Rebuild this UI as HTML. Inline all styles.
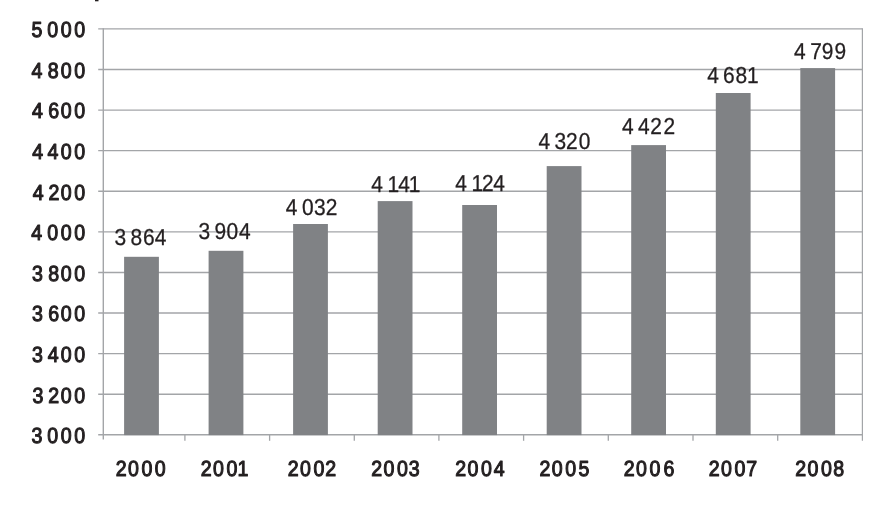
<!DOCTYPE html>
<html><head><meta charset="utf-8"><title>Chart</title>
<style>html,body{margin:0;padding:0;background:#fff}svg{display:block}text{text-rendering:geometricPrecision;font-family:"Liberation Sans",sans-serif;fill:#231f20;white-space:pre}</style></head><body>
<svg width="892" height="522" viewBox="0 0 892 522">
<rect width="892" height="522" fill="#fff"/>
<rect x="95" y="0" width="3.5" height="1.3" fill="#231f20"/>
<line x1="98.2" x2="862.4" y1="28.90" y2="28.90" stroke="#a3a5a8" stroke-width="1.4"/>
<line x1="98.2" x2="862.4" y1="69.49" y2="69.49" stroke="#a3a5a8" stroke-width="1.4"/>
<line x1="98.2" x2="862.4" y1="110.08" y2="110.08" stroke="#a3a5a8" stroke-width="1.4"/>
<line x1="98.2" x2="862.4" y1="150.67" y2="150.67" stroke="#a3a5a8" stroke-width="1.4"/>
<line x1="98.2" x2="862.4" y1="191.26" y2="191.26" stroke="#a3a5a8" stroke-width="1.4"/>
<line x1="98.2" x2="862.4" y1="231.85" y2="231.85" stroke="#a3a5a8" stroke-width="1.4"/>
<line x1="98.2" x2="862.4" y1="272.44" y2="272.44" stroke="#a3a5a8" stroke-width="1.4"/>
<line x1="98.2" x2="862.4" y1="313.03" y2="313.03" stroke="#a3a5a8" stroke-width="1.4"/>
<line x1="98.2" x2="862.4" y1="353.62" y2="353.62" stroke="#a3a5a8" stroke-width="1.4"/>
<line x1="98.2" x2="862.4" y1="394.21" y2="394.21" stroke="#a3a5a8" stroke-width="1.4"/>
<line x1="98.2" x2="862.4" y1="434.80" y2="434.80" stroke="#a3a5a8" stroke-width="1.4"/>
<line x1="103.3" x2="103.3" y1="28.2" y2="439.4" stroke="#a3a5a8" stroke-width="1.4"/>
<line x1="862.4" x2="862.4" y1="28.2" y2="440.8" stroke="#a3a5a8" stroke-width="1.2"/>
<line x1="184.9" x2="184.9" y1="434.8" y2="440.8" stroke="#a3a5a8" stroke-width="1.3"/>
<line x1="269.6" x2="269.6" y1="434.8" y2="440.8" stroke="#a3a5a8" stroke-width="1.3"/>
<line x1="354.3" x2="354.3" y1="434.8" y2="440.8" stroke="#a3a5a8" stroke-width="1.3"/>
<line x1="438.9" x2="438.9" y1="434.8" y2="440.8" stroke="#a3a5a8" stroke-width="1.3"/>
<line x1="523.6" x2="523.6" y1="434.8" y2="440.8" stroke="#a3a5a8" stroke-width="1.3"/>
<line x1="608.3" x2="608.3" y1="434.8" y2="440.8" stroke="#a3a5a8" stroke-width="1.3"/>
<line x1="693.0" x2="693.0" y1="434.8" y2="440.8" stroke="#a3a5a8" stroke-width="1.3"/>
<line x1="777.7" x2="777.7" y1="434.8" y2="440.8" stroke="#a3a5a8" stroke-width="1.3"/>
<rect x="124.1" y="256.8" width="34.8" height="178.3" fill="#808285"/>
<rect x="208.6" y="250.8" width="34.8" height="184.3" fill="#808285"/>
<rect x="293.1" y="224.0" width="34.8" height="211.1" fill="#808285"/>
<rect x="377.7" y="201.1" width="34.8" height="234.0" fill="#808285"/>
<rect x="462.2" y="205.0" width="34.8" height="230.1" fill="#808285"/>
<rect x="546.7" y="166.1" width="34.8" height="269.0" fill="#808285"/>
<rect x="631.2" y="145.1" width="34.8" height="290.0" fill="#808285"/>
<rect x="715.8" y="93.0" width="34.8" height="342.1" fill="#808285"/>
<rect x="800.3" y="68.1" width="34.8" height="367.0" fill="#808285"/>
<text transform="translate(0,244.80) scale(0.910,1)" x="125.70 138.50 143.49 157.26 170.05" font-size="23.0" stroke="#231f20" stroke-width="0.3">3 864</text>
<text transform="translate(0,238.50) scale(0.910,1)" x="218.12 230.91 235.59 248.93 262.63" font-size="23.0" stroke="#231f20" stroke-width="0.3">3 904</text>
<text transform="translate(0,214.80) scale(0.910,1)" x="313.95 326.74 331.96 345.16 358.00" font-size="23.0" stroke="#231f20" stroke-width="0.3">4 032</text>
<text transform="translate(0,191.50) scale(0.910,1)" x="408.07 420.86 425.93 437.63 449.22" font-size="23.0" stroke="#231f20" stroke-width="0.3">4 141</text>
<text transform="translate(0,191.40) scale(0.910,1)" x="500.38 513.17 518.23 529.70 542.14" font-size="23.0" stroke="#231f20" stroke-width="0.3">4 124</text>
<text transform="translate(0,148.70) scale(0.910,1)" x="591.81 604.60 609.44 622.01 635.86" font-size="23.0" stroke="#231f20" stroke-width="0.3">4 320</text>
<text transform="translate(0,133.70) scale(0.910,1)" x="683.40 696.19 701.04 714.65 729.10" font-size="23.0" stroke="#231f20" stroke-width="0.3">4 422</text>
<text transform="translate(0,82.70) scale(0.910,1)" x="777.30 790.10 794.51 808.27 820.87" font-size="23.0" stroke="#231f20" stroke-width="0.3">4 681</text>
<text transform="translate(0,58.50) scale(0.910,1)" x="872.41 885.21 890.46 902.90 917.07" font-size="23.0" stroke="#231f20" stroke-width="0.3">4 799</text>
<text transform="translate(0,37.20) scale(0.895,1)" x="35.33 47.51 52.85 67.82 82.85" font-size="21.9" stroke="#231f20" stroke-width="1.1" stroke-linejoin="round">5 000</text>
<text transform="translate(0,77.79) scale(0.895,1)" x="35.32 47.50 53.24 67.82 82.85" font-size="21.9" stroke="#231f20" stroke-width="1.1" stroke-linejoin="round">4 800</text>
<text transform="translate(0,118.38) scale(0.895,1)" x="35.77 47.95 54.00 67.82 82.85" font-size="21.9" stroke="#231f20" stroke-width="1.1" stroke-linejoin="round">4 600</text>
<text transform="translate(0,158.97) scale(0.895,1)" x="36.10 48.28 52.97 67.82 82.85" font-size="21.9" stroke="#231f20" stroke-width="1.1" stroke-linejoin="round">4 400</text>
<text transform="translate(0,199.56) scale(0.895,1)" x="36.55 48.73 54.08 67.82 82.85" font-size="21.9" stroke="#231f20" stroke-width="1.1" stroke-linejoin="round">4 200</text>
<text transform="translate(0,240.15) scale(0.895,1)" x="34.99 47.16 52.85 67.82 82.85" font-size="21.9" stroke="#231f20" stroke-width="1.1" stroke-linejoin="round">4 000</text>
<text transform="translate(0,280.74) scale(0.895,1)" x="35.65 47.83 54.02 67.82 82.85" font-size="21.9" stroke="#231f20" stroke-width="1.1" stroke-linejoin="round">3 800</text>
<text transform="translate(0,321.33) scale(0.895,1)" x="35.65 47.83 54.00 67.82 82.85" font-size="21.9" stroke="#231f20" stroke-width="1.1" stroke-linejoin="round">3 600</text>
<text transform="translate(0,361.92) scale(0.895,1)" x="35.87 48.05 53.31 67.82 82.85" font-size="21.9" stroke="#231f20" stroke-width="1.1" stroke-linejoin="round">3 400</text>
<text transform="translate(0,402.51) scale(0.895,1)" x="36.32 48.50 53.85 67.82 82.85" font-size="21.9" stroke="#231f20" stroke-width="1.1" stroke-linejoin="round">3 200</text>
<text transform="translate(0,443.10) scale(0.895,1)" x="35.20 47.38 52.85 67.82 82.85" font-size="21.9" stroke="#231f20" stroke-width="1.1" stroke-linejoin="round">3 000</text>
<text transform="translate(0,476.40) scale(0.895,1)" x="129.22 142.90 157.99 172.96" font-size="21.9" stroke="#231f20" stroke-width="1.1" stroke-linejoin="round">2000</text>
<text transform="translate(0,476.40) scale(0.895,1)" x="224.30 237.99 253.07 265.45" font-size="21.9" stroke="#231f20" stroke-width="1.1" stroke-linejoin="round">2001</text>
<text transform="translate(0,476.40) scale(0.895,1)" x="321.62 335.31 350.39 363.35" font-size="21.9" stroke="#231f20" stroke-width="1.1" stroke-linejoin="round">2002</text>
<text transform="translate(0,476.40) scale(0.895,1)" x="414.80 428.49 443.57 456.77" font-size="21.9" stroke="#231f20" stroke-width="1.1" stroke-linejoin="round">2003</text>
<text transform="translate(0,476.40) scale(0.895,1)" x="508.77 522.46 537.54 551.75" font-size="21.9" stroke="#231f20" stroke-width="1.1" stroke-linejoin="round">2004</text>
<text transform="translate(0,476.40) scale(0.895,1)" x="602.85 616.54 631.62 646.39" font-size="21.9" stroke="#231f20" stroke-width="1.1" stroke-linejoin="round">2005</text>
<text transform="translate(0,476.40) scale(0.895,1)" x="696.82 710.50 725.59 741.27" font-size="21.9" stroke="#231f20" stroke-width="1.1" stroke-linejoin="round">2006</text>
<text transform="translate(0,476.40) scale(0.895,1)" x="791.90 805.59 820.67 833.73" font-size="21.9" stroke="#231f20" stroke-width="1.1" stroke-linejoin="round">2007</text>
<text transform="translate(0,476.40) scale(0.895,1)" x="888.66 902.35 917.43 931.12" font-size="21.9" stroke="#231f20" stroke-width="1.1" stroke-linejoin="round">2008</text>
</svg></body></html>
